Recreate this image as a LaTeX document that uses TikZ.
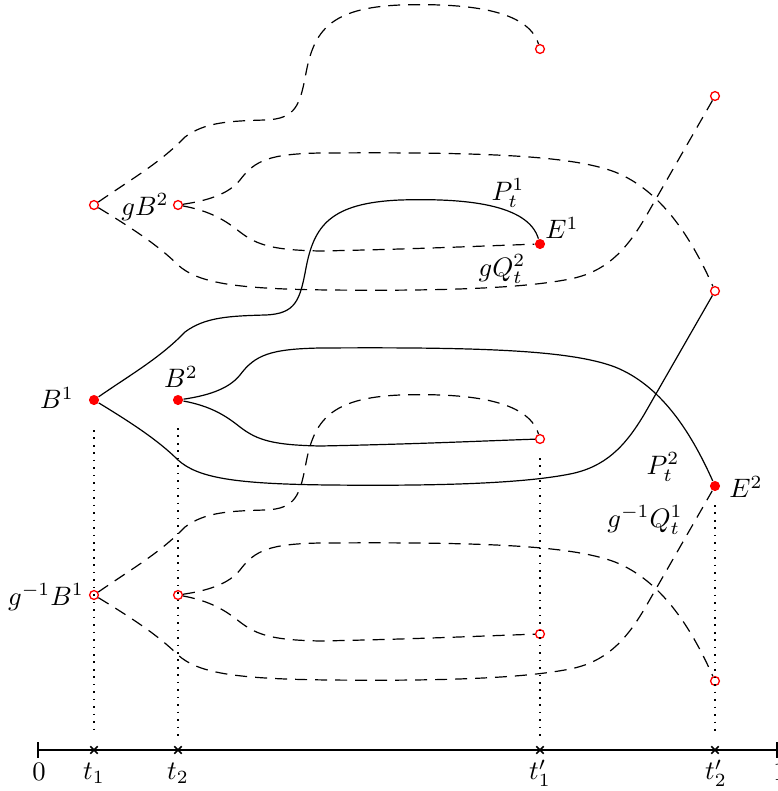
\documentclass[tikz,border=0pt]{standalone}
\usetikzlibrary{shapes.misc}
\newcommand\pathA[3]{\draw[#1] (#2) .. controls (130,375) and (160,358) .. (185,332) .. controls (205,317) and (230,316) .. (265,315) .. controls (296,314) and (300,300) .. (306,268) .. controls (314,226) and (330,203) .. (400,200) .. controls (465,198) and (528,204) .. (#3);}
\newcommand\pathB[3]{\draw[#1] (#2) .. controls (130,422) and (158,440) .. (178,460) .. controls (198,478) and (235,484) .. (330,485) .. controls (430,486) and (520,484) .. (570,474) .. controls (605,467) and (625,447) .. (645,413) -- (#3);}
\newcommand\pathC[3]{\draw[#1] (#2) .. controls (205,396) and (228,390) .. (240,375) .. controls (255,355) and (270,349) .. (320,348) .. controls (480,347) and (570,350) .. (615,367) .. controls (660,385) and (690,430) .. (#3);}
\newcommand\pathD[3]{\draw[#1] (#2) .. controls (210,406) and (225,415) .. (240,427) .. controls (258,441) and (275,445) .. (320,446) .. controls (420,444) and (480,441) .. (#3);}
\begin{document}
\begin{tikzpicture}[x=0.375pt,y=-0.375pt,
  fdot/.style={circle,fill=red,inner sep=0pt,minimum size=3.8pt},
  hdot/.style={circle,draw=red,fill=white,inner sep=0pt,minimum size=3.3pt,line width=0.5pt},
  solidc/.style={line width=0.45pt},
  dashc/.style={line width=0.45pt,dash pattern=on 4.5pt off 3pt},
  guide/.style={line width=0.45pt,dash pattern=on 0.6pt off 2.2pt},
  lbl/.style={inner sep=0pt},
  tcross/.style={cross out,draw,inner sep=0pt,minimum size=2.2pt,line width=0.6pt}]
\useasboundingbox (0,0) rectangle (778,791);

% points
\node[fdot] (B1) at (94,400) {};
\node[fdot] (B2) at (178,400) {};
\node[fdot] (E1) at (540,244) {};
\node[fdot] (E2) at (715,486) {};
\node[hdot] (gB1) at (94,205) {};
\node[hdot] (gB2) at (178,205) {};
\node[hdot] (gE1) at (540,49) {};
\node[hdot] (gE2) at (715,291) {};
\node[hdot] (ggE2) at (715,96) {};
\node[hdot] (iB1) at (94,595) {};
\node[hdot] (iB2) at (178,595) {};
\node[hdot] (iE1) at (540,439) {};
\node[hdot] (iiE1) at (540,634) {};
\node[hdot] (iE2) at (715,681) {};

% main solid paths
\pathA{solidc}{B1}{E1}
\pathB{solidc}{B1}{gE2}
\pathC{solidc}{B2}{E2}
\pathD{solidc}{B2}{iE1}

% g copy
\begin{scope}[shift={(0,-195)}]
\pathA{dashc}{gB1}{gE1}
\pathB{dashc}{gB1}{ggE2}
\pathC{dashc}{gB2}{gE2}
\pathD{dashc}{gB2}{E1}
\end{scope}

% g^{-1} copy
\begin{scope}[shift={(0,195)}]
\pathA{dashc}{iB1}{iE1}
\pathB{dashc}{iB1}{E2}
\pathC{dashc}{iB2}{iE2}
\pathD{dashc}{iB2}{iiE1}
\end{scope}

% axis
\coordinate (a0) at (38,750);
\coordinate (a1) at (778,750);
\draw[line width=0.9pt] (a0) -- (a1);
\draw[line width=0.5pt] (38,742) -- (38,758);
\draw[line width=0.5pt] (777,742) -- (777,758);
\node[tcross] (t1) at (94,750) {};
\node[tcross] (t2) at (178,750) {};
\node[tcross] (t1p) at (540,750) {};
\node[tcross] (t2p) at (715,750) {};

% guides
\coordinate (g1) at (94,430);
\coordinate (g2) at (178,428);
\coordinate (g3) at (540,458);
\coordinate (g4) at (715,505);
\coordinate (h1) at (94,736);
\coordinate (h2) at (178,736);
\coordinate (h3) at (540,736);
\coordinate (h4) at (715,736);
\draw[guide] (g1) -- (h1);
\draw[guide] (g2) -- (h2);
\draw[guide] (g3) -- (h3);
\draw[guide] (g4) -- (h4);

% axis labels
\node[lbl] (l0) at (39,772) {$0$};
\node[lbl] (lt1) at (94,773) {$t_1$};
\node[lbl] (lt2) at (178,773) {$t_2$};
\node[lbl] (lt1p) at (540,773) {$t_1'$};
\node[lbl] (lt2p) at (716,773) {$t_2'$};
\node[lbl] (l1) at (780,772) {$1$};

% labels
\node[lbl] (LB1) at (57,398) {$B^1$};
\node[lbl] (LB2) at (181,377) {$B^2$};
\node[lbl] (LE1) at (562,228) {$E^1$};
\node[lbl] (LE2) at (746,487) {$E^2$};
\node[lbl] (LP1) at (508,193) {$P_t^1$};
\node[lbl] (LgQ) at (502,269) {$gQ_t^2$};
\node[lbl] (LP2) at (663,467) {$P_t^2$};
\node[lbl] (LiQ) at (645,520) {$g^{-1}Q_t^1$};
\node[lbl] (LgB) at (145,207) {$gB^2$};
\node[lbl] (LiB) at (46,597) {$g^{-1}B^1$};
\end{tikzpicture}
\end{document}
